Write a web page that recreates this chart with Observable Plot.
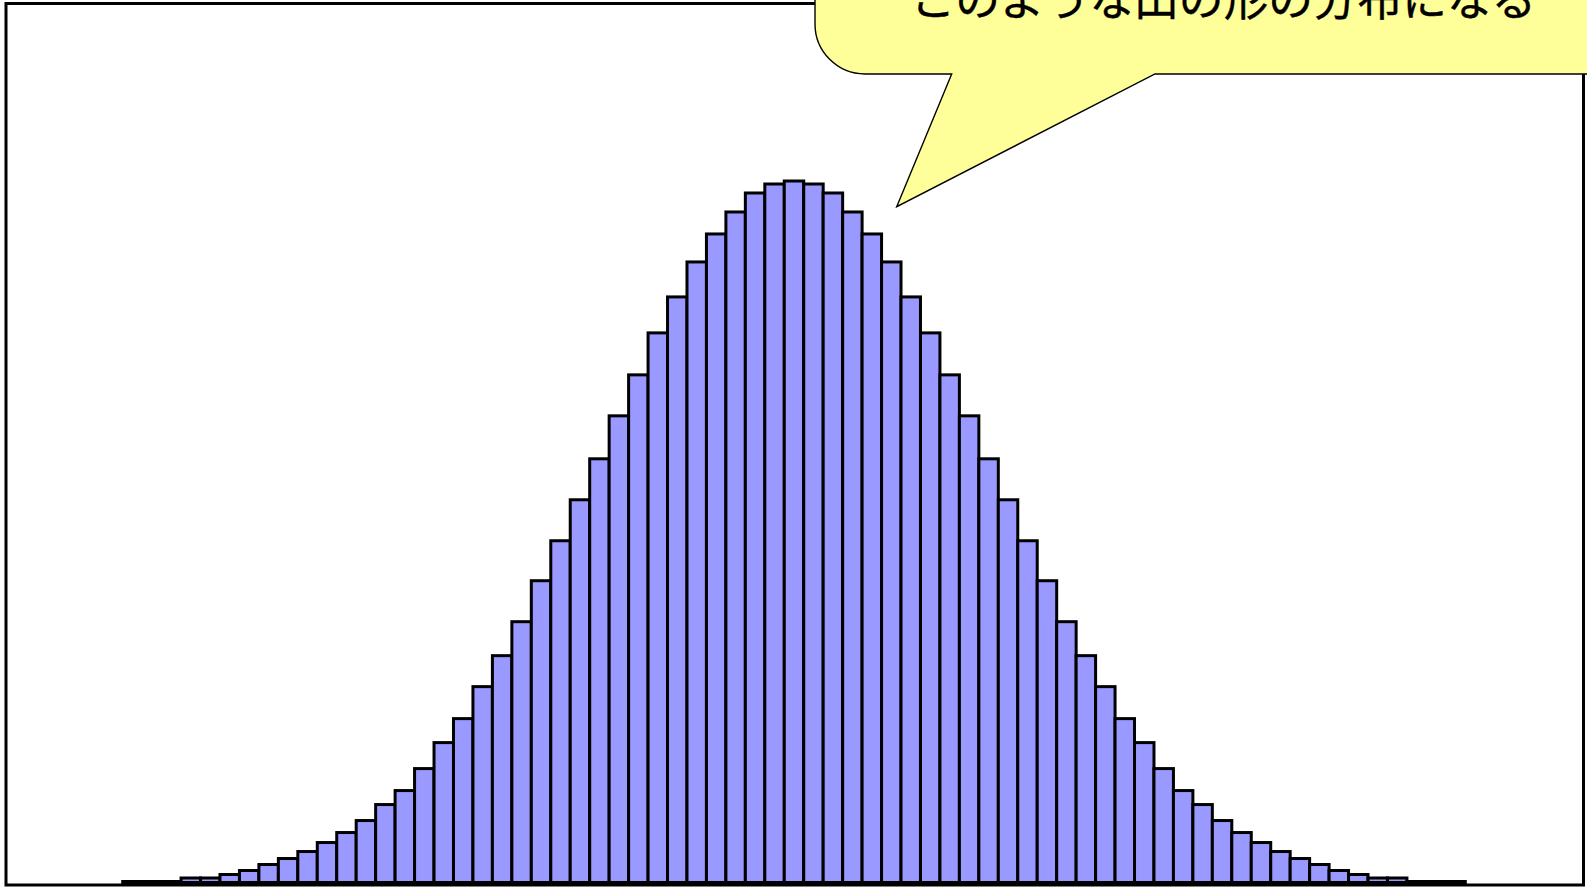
<!DOCTYPE html>
<html>
<head>
<meta charset="utf-8">
<script src="https://cdn.jsdelivr.net/npm/d3@7"></script>
<script src="https://cdn.jsdelivr.net/npm/@observablehq/plot@0.6"></script>
<style>
  html, body { margin: 0; padding: 0; background: #fff; }
  #chart svg { display: block; }
</style>
</head>
<body>
<div id="chart"></div>
<script>
// class values (bin centres) and frequencies
const classes = d3.range(-34, 35);
const leftHalf = [1, 1, 1, 4.5, 4.5, 8, 12, 18, 24, 31, 40, 50, 62, 78, 92, 114, 140, 164, 196, 227, 261, 302, 342, 383, 424, 467, 508, 550, 586, 621, 649, 671, 690, 699];
const peak = [702];
const rightHalf = [699, 690, 671, 649, 621, 586, 550, 508, 467, 424, 383, 342, 302, 261, 227, 196, 164, 140, 114, 92, 78, 62, 50, 40, 31, 24, 18, 12, 8, 4.5, 4.5, 1, 1, 1];
const frequencies = [...leftHalf, ...peak, ...rightHalf];
const calloutText = "このような山の形の分布になる";

const data = classes.map((c, i) => ({c, f: frequencies[i]}));

const W = 1587, H = 887;
const plot = Plot.plot({
  width: W,
  height: H,
  marginLeft: 5.5,
  marginRight: 4,
  marginTop: 3,
  marginBottom: 2.5,
  style: {background: "#fff", overflow: "visible"},
  x: {domain: [-34.5, 34.5], range: [122.7, 1465.3], axis: null},
  y: {domain: [0, 702], range: [882.5, 181], axis: null},
  marks: [
    Plot.rectY(data, {
      x1: d => d.c - 0.5,
      x2: d => d.c + 0.5,
      y: "f",
      fill: "#9999FF",
      stroke: "#000",
      strokeWidth: 3
    }),
    Plot.frame({stroke: "#000", strokeWidth: 3})
  ]
});

document.getElementById("chart").appendChild(plot);

// speech-bubble callout
const svg = d3.select(plot);
const g = svg.append("g");
g.append("path")
  .attr("d", "M815,-20 L815,24 A50,50 0 0 0 865,74 L951.7,74 L896.7,206.7 L1155,74 L1592,74 L1592,-20 Z")
  .attr("fill", "#FFFF99")
  .attr("stroke", "#000")
  .attr("stroke-width", 1.4)
  .attr("stroke-linejoin", "miter");
g.append("text")
  .attr("x", 1223.5)
  .attr("y", 15.5)
  .attr("text-anchor", "middle")
  .attr("font-family", "'Noto Sans CJK JP', 'Noto Sans', sans-serif")
  .attr("font-size", 44.7)
  .attr("fill", "#000")
  .attr("stroke", "#000")
  .attr("stroke-width", 0.4)
  .text(calloutText);
</script>
</body>
</html>
